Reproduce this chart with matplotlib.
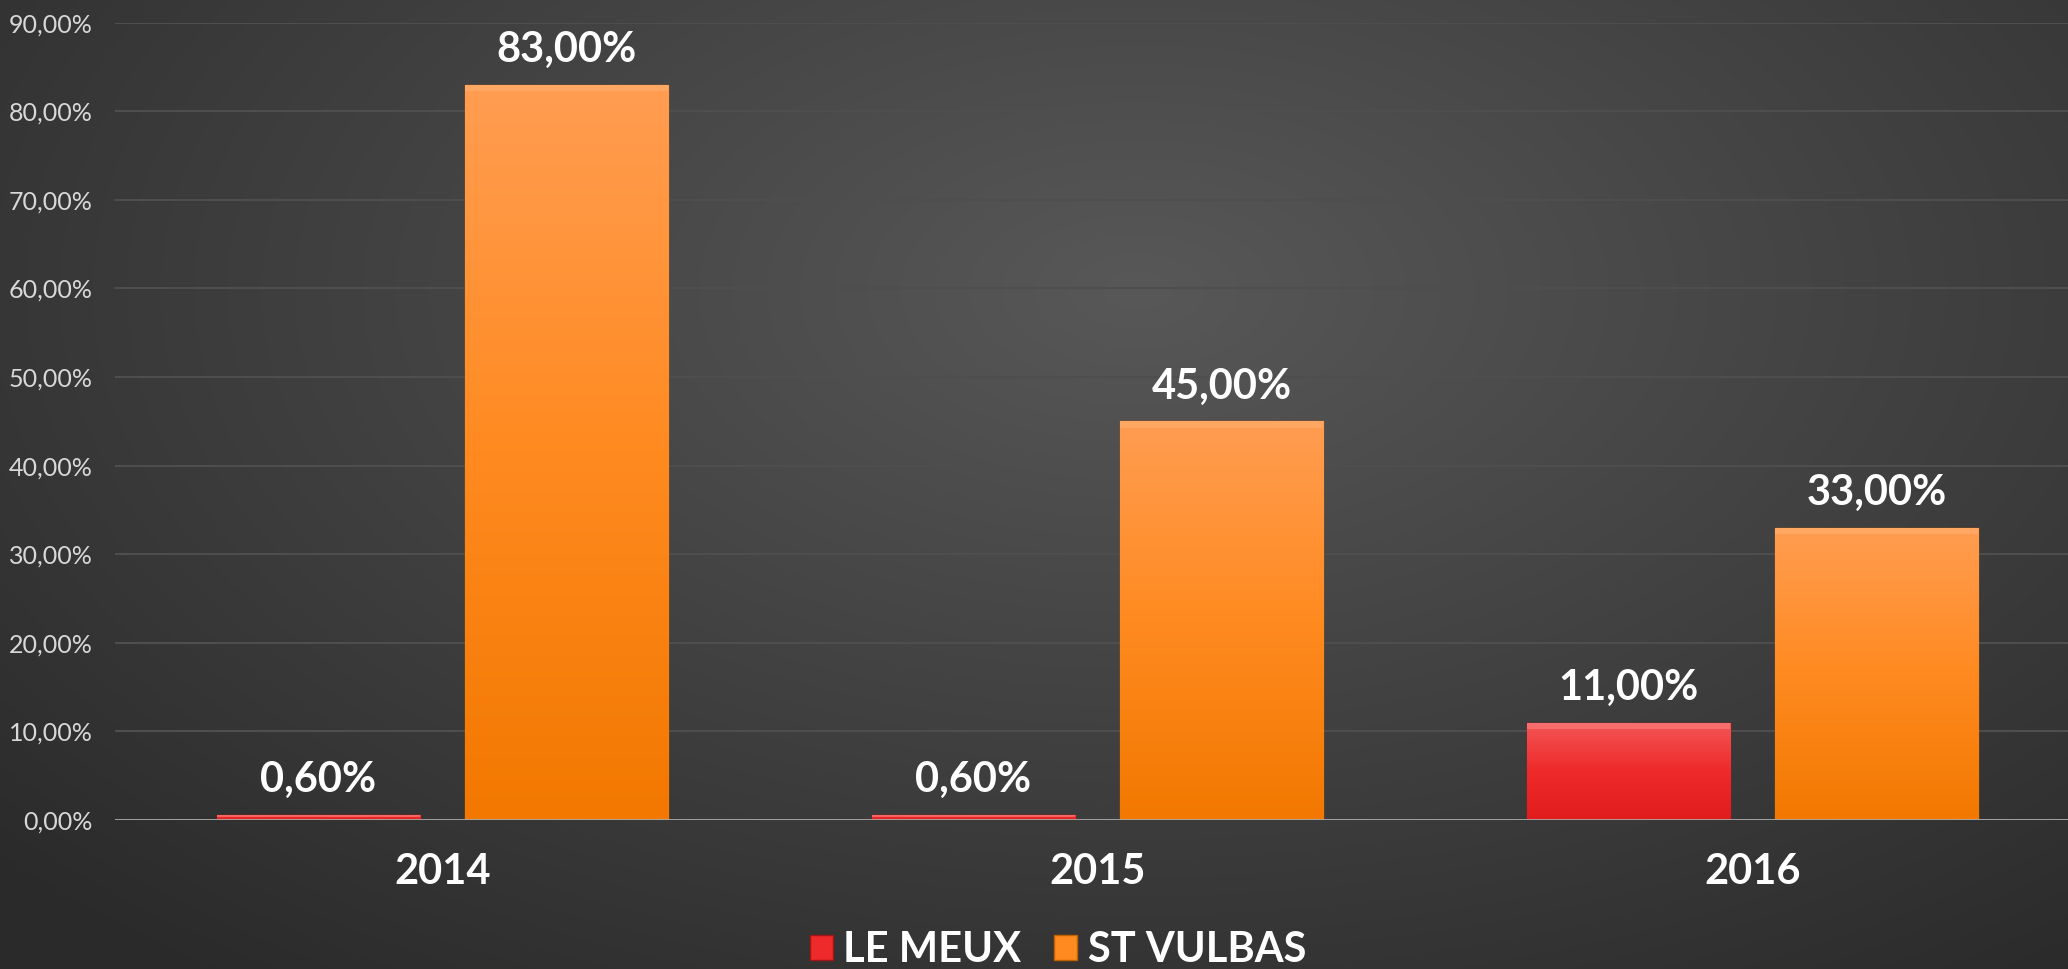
import numpy as np
import matplotlib
matplotlib.use("Agg")
import matplotlib.pyplot as plt
from matplotlib.patches import Patch, Rectangle
from matplotlib.ticker import FuncFormatter, MultipleLocator
from matplotlib.colors import LinearSegmentedColormap

# ---- data ----
years = ["2014", "2015", "2016"]
le_meux = [0.60, 0.60, 11.00]
st_vulbas = [83.00, 45.00, 33.00]
series_names = ["LE MEUX", "ST VULBAS"]

FONT = ["Lato", "DejaVu Sans"]
plt.rcParams['font.family'] = FONT

W, H = 2068, 969
fig = plt.figure(figsize=(W / 100, H / 100), dpi=100)

# background radial gradient
bg = fig.add_axes([0, 0, 1, 1], zorder=-10)
yy, xx = np.mgrid[0:1:400j, 0:1:800j]
r = np.sqrt(((xx - 0.55) / 0.75) ** 2 + ((yy - 0.30) / 0.9) ** 2)
r = np.clip(r, 0, 1)
c_in = np.array([0x58, 0x58, 0x58]) / 255
c_out = np.array([0x2a, 0x2a, 0x2a]) / 255
img = c_in[None, None, :] * (1 - r[..., None]) + c_out[None, None, :] * r[..., None]
bg.imshow(img, aspect='auto', extent=[0, 1, 1, 0])
bg.set_axis_off()

left = 115 / W
right = 2080 / W
bottom = 1 - 820 / H
top = 1 - 22.7 / H
ax = fig.add_axes([left, bottom, right - left, top - bottom])
ax.patch.set_alpha(0)

x = np.arange(len(years))
width = 0.31
off = 0.19

red_cmap = LinearSegmentedColormap.from_list("r", ["#f45656", "#ee2a2a", "#e01c1c"])
org_cmap = LinearSegmentedColormap.from_list("o", ["#ff9d52", "#ff8a20", "#f27800"])

b1 = ax.bar(x - off, le_meux, width, color="#ee2a2a", edgecolor="#b01818", linewidth=1, zorder=3)
b2 = ax.bar(x + off, st_vulbas, width, color="#ff8a20", edgecolor="#c86000", linewidth=1, zorder=3)

grad = np.linspace(0, 1, 256).reshape(-1, 1)
for bars, cmap, hl in ((b1, red_cmap, "#ff8080"), (b2, org_cmap, "#ffb070")):
    for p in bars:
        bx, by = p.get_x(), p.get_y()
        bw, bh = p.get_width(), p.get_height()
        im = ax.imshow(grad, cmap=cmap, aspect='auto', extent=[bx, bx + bw, by, by + bh],
                       origin='upper', zorder=3.5)
        im.set_clip_path(p)
        # bevel highlight along the top edge
        hh = min(0.7, bh * 0.5)
        ax.add_patch(Rectangle((bx, by + bh - hh), bw, hh, facecolor=hl, edgecolor='none',
                               alpha=0.6, zorder=3.6))

for bars, vals in ((b1, le_meux), (b2, st_vulbas)):
    for p, v in zip(bars, vals):
        ax.annotate(f"{v:.2f}".replace('.', ',') + "%",
                    xy=(p.get_x() + p.get_width() / 2, v), xytext=(0, 25),
                    textcoords='offset points', ha='center', va='center',
                    fontsize=30, fontweight='bold', color='white', zorder=5)

ax.set_xlim(-0.5, 2.5)
ax.set_ylim(0, 90)
ax.yaxis.set_major_locator(MultipleLocator(10))
ax.yaxis.set_major_formatter(FuncFormatter(lambda v, p: f"{v:.2f}".replace('.', ',') + "%"))
ax.grid(axis='y', color='#4e4e4e', linewidth=1.5, zorder=0)
ax.set_axisbelow(True)
for s in ax.spines.values():
    s.set_visible(False)
ax.axhline(0, color='#a8a8a8', linewidth=2, zorder=4)

ax.tick_params(axis='y', length=0, pad=16, labelsize=18, labelcolor='#d8d8d8')
ax.set_xticks(x)
ax.set_xticklabels(years)
ax.tick_params(axis='x', length=0, pad=24, labelsize=30, labelcolor='white')
for t in ax.get_xticklabels():
    t.set_fontweight('bold')

handles = [Patch(facecolor="#ee2a2a", edgecolor="#a01515"),
           Patch(facecolor="#ff8a20", edgecolor="#c06000")]
leg = fig.legend(handles, series_names, loc='center', bbox_to_anchor=(1058 / W, 1 - 950 / H),
                 ncol=2, frameon=False, handlelength=0.55, handleheight=0.55,
                 handletextpad=0.25, columnspacing=0.8,
                 prop={'size': 30, 'weight': 'bold', 'family': FONT})
for t in leg.get_texts():
    t.set_color('white')

fig.savefig("out.png", dpi=100)
